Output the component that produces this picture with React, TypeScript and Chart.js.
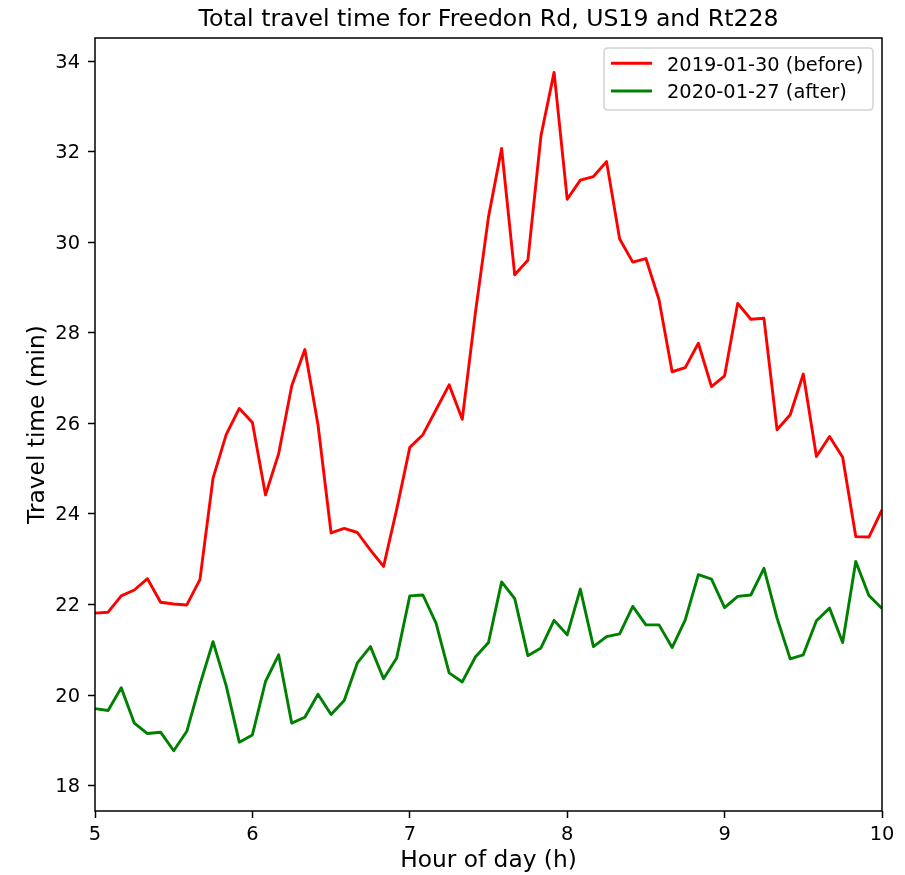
import React, { useEffect, useRef } from "react";
import { Chart, registerables } from "chart.js";

Chart.register(...registerables);

// Sample times, minutes after midnight (05:00 to 10:00, every 5 minutes)
const sampleMinutes = [
  300, 305, 310, 315, 320, 325, 330, 335, 340, 345, 350, 355,
  360, 365, 370, 375, 380, 385, 390, 395, 400, 405, 410, 415,
  420, 425, 430, 435, 440, 445, 450, 455, 460, 465, 470, 475,
  480, 485, 490, 495, 500, 505, 510, 515, 520, 525, 530, 535,
  540, 545, 550, 555, 560, 565, 570, 575, 580, 585, 590, 595,
  600,
];

const before2019 = [
  21.81, 21.83, 22.19, 22.32, 22.57, 22.05, 22.01, 21.99, 22.55, 24.79,
  25.75, 26.33, 26.02, 24.42, 25.33, 26.83, 27.63, 25.97, 23.58, 23.68,
  23.59, 23.2, 22.84, 24.1, 25.47, 25.75, 26.3, 26.85, 26.09, 28.44,
  30.56, 32.07, 29.28, 29.6, 32.35, 33.75, 30.95, 31.37, 31.45, 31.78,
  30.07, 29.56, 29.64, 28.73, 27.14, 27.23, 27.77, 26.81, 27.05, 28.65,
  28.3, 28.32, 25.86, 26.19, 27.09, 25.27, 25.71, 25.25, 23.5, 23.49,
  24.09,
];

const after2020 = [
  19.7, 19.66, 20.16, 19.38, 19.15, 19.18, 18.77, 19.2, 20.23, 21.18,
  20.21, 18.96, 19.12, 20.3, 20.89, 19.38, 19.51, 20.02, 19.57, 19.88,
  20.71, 21.07, 20.36, 20.82, 22.19, 22.21, 21.59, 20.49, 20.29, 20.84,
  21.16, 22.5, 22.13, 20.87, 21.04, 21.65, 21.33, 22.34, 21.07, 21.29,
  21.35, 21.96, 21.55, 21.55, 21.05, 21.66, 22.66, 22.56, 21.93, 22.18,
  22.21, 22.8, 21.7, 20.8, 20.89, 21.64, 21.92, 21.16, 22.95, 22.2,
  21.91,
];

const seriesLabels = ["2019-01-30 (before)", "2020-01-27 (after)"];
const seriesColors = ["#ff0000", "#008000"];
const chartTitle = "Total travel time for Freedon Rd, US19 and Rt228";
const xTitle = "Hour of day (h)";
const yTitle = "Travel time (min)";

const FONT = "'DejaVu Sans', sans-serif";

const framePlugin = {
  id: "mplFrame",
  afterDatasetsDraw(chart: any) {
    const { ctx, chartArea } = chart;
    const { left, top, right, bottom } = chartArea;
    ctx.save();
    ctx.strokeStyle = "#000";
    ctx.lineWidth = 1.5;
    ctx.strokeRect(left, top, right - left, bottom - top);
    ctx.restore();
  },
  afterDraw(chart: any) {
    const { ctx, chartArea } = chart;
    ctx.save();
    // title
    ctx.fillStyle = "#000";
    ctx.font = `23.6px ${FONT}`;
    ctx.textAlign = "center";
    ctx.textBaseline = "alphabetic";
    ctx.fillText(chartTitle, (chartArea.left + chartArea.right) / 2, 26);

    // legend
    const bx = 604, by = 48, bw = 269, bh = 62, r = 4;
    ctx.beginPath();
    ctx.moveTo(bx + r, by);
    ctx.lineTo(bx + bw - r, by);
    ctx.quadraticCurveTo(bx + bw, by, bx + bw, by + r);
    ctx.lineTo(bx + bw, by + bh - r);
    ctx.quadraticCurveTo(bx + bw, by + bh, bx + bw - r, by + bh);
    ctx.lineTo(bx + r, by + bh);
    ctx.quadraticCurveTo(bx, by + bh, bx, by + bh - r);
    ctx.lineTo(bx, by + r);
    ctx.quadraticCurveTo(bx, by, bx + r, by);
    ctx.closePath();
    ctx.fillStyle = "rgba(255,255,255,0.8)";
    ctx.fill();
    ctx.strokeStyle = "#d4d4d4";
    ctx.lineWidth = 1.5;
    ctx.stroke();

    const rows = [63.3, 91];
    ctx.font = `19.4px ${FONT}`;
    ctx.textAlign = "left";
    ctx.textBaseline = "alphabetic";
    seriesLabels.forEach((lab, i) => {
      ctx.strokeStyle = seriesColors[i];
      ctx.lineWidth = 2.9;
      ctx.beginPath();
      ctx.moveTo(611, rows[i]);
      ctx.lineTo(652, rows[i]);
      ctx.stroke();
      ctx.fillStyle = "#000";
      ctx.fillText(lab, 667, rows[i] + 7.2);
    });
    ctx.restore();
  },
};

export default function App() {
  const ref = useRef<HTMLCanvasElement>(null);

  useEffect(() => {
    if (!ref.current) return;
    const hours = sampleMinutes.map((m) => m / 60);
    const chart = new Chart(ref.current, {
      type: "line",
      data: {
        datasets: [before2019, after2020].map((vals, i) => ({
          label: seriesLabels[i],
          data: vals.map((v, j) => ({ x: hours[j], y: v })),
          borderColor: seriesColors[i],
          backgroundColor: seriesColors[i],
          borderWidth: 2.9,
          pointRadius: 0,
          tension: 0,
          fill: false,
          borderJoinStyle: "round" as const,
        })),
      },
      options: {
        responsive: false,
        animation: false,
        devicePixelRatio: 1,
        layout: { padding: { top: 38, right: 23, left: 0, bottom: 0 } },
        plugins: {
          legend: { display: false },
          title: { display: false },
          tooltip: { enabled: false },
        },
        scales: {
          x: {
            type: "linear",
            min: 5,
            max: 10,
            border: { display: false },
            grid: {
              drawOnChartArea: false,
              drawTicks: true,
              tickLength: 7,
              tickWidth: 1.5,
              tickColor: "#000",
            },
            ticks: {
              stepSize: 1,
              padding: 5,
              color: "#000",
              font: { family: FONT, size: 19.4 },
              maxRotation: 0,
            },
            title: {
              display: true,
              text: xTitle,
              color: "#000",
              font: { family: FONT, size: 23.3 },
              padding: { top: 0, bottom: 0 },
            },
            afterFit(scale: any) {
              scale.height = 64;
            },
          },
          y: {
            type: "linear",
            min: 17.44,
            max: 34.51,
            border: { display: false },
            grid: {
              drawOnChartArea: false,
              drawTicks: true,
              tickLength: 7,
              tickWidth: 1.5,
              tickColor: "#000",
            },
            ticks: {
              stepSize: 2,
              includeBounds: false,
              padding: 8,
              labelOffset: 1.5,
              color: "#000",
              font: { family: FONT, size: 19.4 },
            },
            title: {
              display: true,
              text: yTitle,
              color: "#000",
              font: { family: FONT, size: 23.3 },
              padding: { top: 24, bottom: 0 },
            },
            afterFit(scale: any) {
              scale.width = 95;
            },
          },
        },
      },
      plugins: [framePlugin],
    });
    return () => chart.destroy();
  }, []);

  return (
    <canvas
      ref={ref}
      width={905}
      height={875}
      style={{ position: "absolute", left: 0, top: 0, width: 905, height: 875 }}
    />
  );
}
